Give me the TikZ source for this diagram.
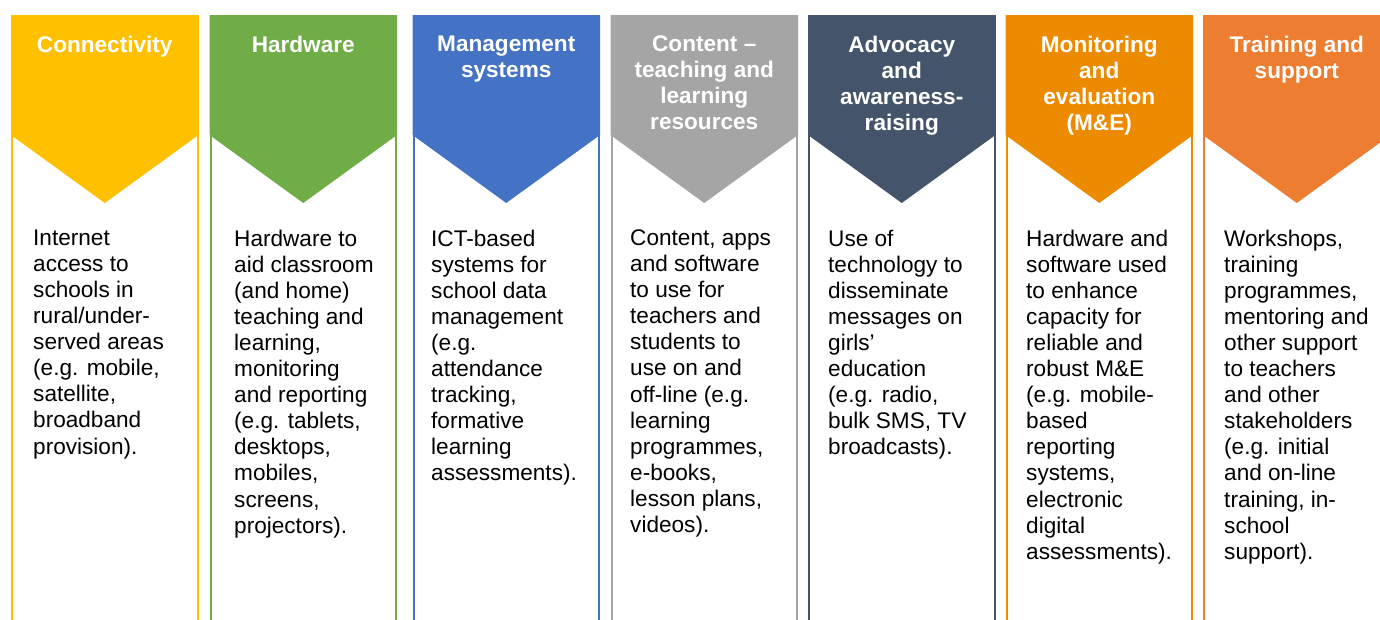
\documentclass[tikz,border=0pt]{standalone}
\usepackage{fontspec}
\setmainfont{Liberation Sans}

\definecolor{connYellow}{HTML}{FFC000}
\definecolor{hardGreen}{HTML}{70AD47}
\definecolor{mgmtBlue}{HTML}{4472C4}
\definecolor{contGray}{HTML}{A5A5A5}
\definecolor{advSlate}{HTML}{44546A}
\definecolor{meOrange}{HTML}{ED8B00}
\definecolor{trainOrange}{HTML}{ED7D31}

\tikzset{
    head/.style={anchor=north, inner sep=0, align=center, text=white, font=\fontsize{22.6}{26.1}\selectfont\bfseries},
    body/.style={anchor=north west, inner sep=0, align=left, text=black, font=\fontsize{22.6}{26.1}\selectfont},
}

\begin{document}
\begin{tikzpicture}[x=1pt, y=-1pt]
    \clip (0,0) rectangle (1380,619);
    \fill[white] (0,0) rectangle (1380,619);

    % columns: side lines and chevron heads
    \foreach \x/\c in {11/connYellow, 209.5/hardGreen, 412.5/mgmtBlue, 610.5/contGray, 808/advSlate, 1005.5/meOrange, 1203/trainOrange} {
        \draw[line width=2pt, \c] (\x+1,15) -- (\x+1,640) (\x+186.5,15) -- (\x+186.5,640);
        \fill[\c] (\x,15) -- (\x+187.5,15) -- (\x+187.5,135) -- (\x+93.75,203) -- (\x,135) -- cycle;
    }

    % headings
    \node[head] (hConn) at (104.75,35.5) {Connectivity};
    \node[head] (hHard) at (303.25,35.5) {Hardware};
    \node[head] (hMgmt) at (506.25,35.5) {Management\\systems};
    \node[head] (hCont) at (704.25,35.5) {Content --\\teaching and\\learning\\resources};
    \node[head] (hAdv) at (901.75,35.5) {Advocacy\\and\\awareness-\\raising};
    \node[head] (hME) at (1099.25,35.5) {Monitoring\\and\\evaluation\\(M\&E)};
    \node[head] (hTrain) at (1296.75,35.5) {Training and\\support};

    % descriptions
    \node[body] (bConn) at (33,229.5) {Internet\\access to\\schools in\\rural/under-\\served areas\\(e.g. mobile,\\satellite,\\broadband\\provision).};
    \node[body] (bHard) at (234,229.5) {Hardware to\\aid classroom\\(and home)\\teaching and\\learning,\\monitoring\\and reporting\\(e.g. tablets,\\desktops,\\mobiles,\\screens,\\projectors).};
    \node[body] (bMgmt) at (431,229.5) {ICT-based\\systems for\\school data\\management\\(e.g.\\attendance\\tracking,\\formative\\learning\\assessments).};
    \node[body] (bCont) at (630,229.5) {Content, apps\\and software\\to use for\\teachers and\\students to\\use on and\\off-line (e.g.\\learning\\programmes,\\e-books,\\lesson plans,\\videos).};
    \node[body] (bAdv) at (828,229.5) {Use of\\technology to\\disseminate\\messages on\\girls’\\education\\(e.g. radio,\\bulk SMS, TV\\broadcasts).};
    \node[body] (bME) at (1026,229.5) {Hardware and\\software used\\to enhance\\capacity for\\reliable and\\robust M\&E\\(e.g. mobile-\\based\\reporting\\systems,\\electronic\\digital\\assessments).};
    \node[body] (bTrain) at (1224,229.5) {Workshops,\\training\\programmes,\\mentoring and\\other support\\to teachers\\and other\\stakeholders\\(e.g. initial\\and on-line\\training, in-\\school\\support).};
\end{tikzpicture}
\end{document}
